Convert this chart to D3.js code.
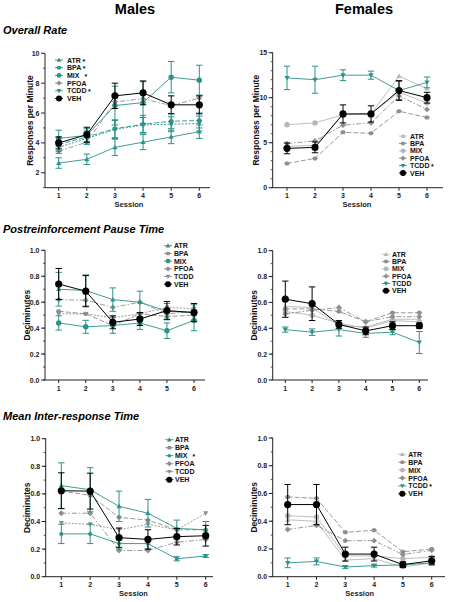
<!DOCTYPE html>
<html><head><meta charset="utf-8">
<script src="https://cdn.jsdelivr.net/npm/d3@7"></script>
<style>body{margin:0;background:#fff}svg{display:block;font-family:"Liberation Sans",Arial,sans-serif}</style>
</head><body><svg id="c" width="449" height="602"></svg>
<script>
const sessions = [1,2,3,4,5,6];
const groups = ["ATR","BPA","MIX","PFOA","TCDD","VEH"];

// Males – Overall Rate (responses per minute), order = groups
const mRate = [
  [2.65,2.9,3.7,4.05,4.4,4.75],
  [3.9,4.4,4.95,5.25,5.45,5.5],
  [4.3,4.5,6.5,6.7,8.4,8.2],
  [3.45,4.05,6.75,6.95,6.5,7.0],
  [3.7,4.3,4.9,5.2,5.25,5.3],
  [4.0,4.55,7.15,7.35,6.55,6.55]
];
const mRateErr = [
  [0.35,0.35,0.55,0.5,0.45,0.45],
  [0.45,0.4,0.6,0.6,0.5,0.5],
  [0.55,0.45,1.3,1.4,1.05,1.0],
  [0,0,0,0,0,0],
  [0.4,0.4,0.6,0.5,0.5,0.5],
  [0.4,0.5,0.85,0.8,0.6,0.6]
];
// Females – Overall Rate
const fRate = [
  [4.6,4.7,8.1,8.2,12.4,11.0],
  [2.7,3.25,6.15,6.05,8.5,7.8],
  [7.0,7.2,8.1,8.2,10.6,9.4],
  [4.9,5.2,6.95,7.2,10.2,8.7],
  [12.2,12.0,12.5,12.5,10.8,11.7],
  [4.37,4.48,8.2,8.2,10.8,10.0]
];
const fRateErr = [
  [0,0,0,0,0,0],[0,0,0,0,0,0],[0,0,0,0,0,0],[0,0,0,0,0,0],
  [1.3,1.5,0.6,0.45,1.0,0.6],
  [0.6,0.6,1.0,0.9,1.1,0.6]
];
// Males – Postreinforcement Pause Time (deciminutes)
const mPause = [
  [0.70,0.69,0.62,0.60,0.53,0.52],
  [0.53,0.51,0.42,0.51,0.49,0.50],
  [0.44,0.41,0.42,0.44,0.38,0.46],
  [0.62,0.615,0.56,0.60,0.51,0.53],
  [0.51,0.51,0.48,0.51,0.56,0.55],
  [0.74,0.685,0.445,0.47,0.535,0.52]
];
const mPauseErr = [
  [0.13,0.12,0.09,0.085,0.06,0.06],
  [0,0,0,0,0,0],
  [0.055,0.05,0.06,0.05,0.06,0.08],
  [0,0,0,0,0,0],[0,0,0,0,0,0],
  [0.12,0.12,0.05,0.05,0.07,0.07]
];
// Females – Postreinforcement Pause Time
const fPause = [
  [0.57,0.56,0.42,0.41,0.47,0.47],
  [0.55,0.55,0.53,0.45,0.52,0.52],
  [0.53,0.50,0.44,0.40,0.46,0.45],
  [0.51,0.54,0.56,0.45,0.49,0.49],
  [0.39,0.37,0.39,0.36,0.37,0.29],
  [0.625,0.59,0.43,0.38,0.42,0.42]
];
const fPauseErr = [
  [0,0,0,0,0,0],[0,0,0,0,0,0],[0,0,0,0,0,0],[0,0,0,0,0,0],
  [0.02,0.025,0.05,0.03,0.02,0.085],
  [0.14,0.13,0.03,0.03,0.03,0.02]
];
// Males – Mean Inter-response Time
const mIrt = [
  [0.66,0.63,0.51,0.46,0.35,0.34],
  [0.62,0.59,0.43,0.41,0.34,0.34],
  [0.31,0.31,0.24,0.24,0.13,0.15],
  [0.46,0.46,0.19,0.19,0.25,0.27],
  [0.39,0.38,0.34,0.38,0.34,0.46],
  [0.623,0.62,0.283,0.27,0.29,0.297]
];
const mIrtErr = [
  [0.165,0.16,0.11,0.1,0.06,0.06],
  [0,0,0,0,0,0],
  [0.07,0.07,0.04,0.04,0.015,0.01],
  [0,0,0,0,0,0],[0,0,0,0,0,0],
  [0.13,0.13,0.07,0.07,0.06,0.075]
];
// Females – Mean Inter-response Time
const fIrt = [
  [0.41,0.40,0.12,0.13,0.07,0.10],
  [0.575,0.565,0.32,0.335,0.18,0.20],
  [0.44,0.43,0.15,0.15,0.13,0.14],
  [0.34,0.37,0.26,0.26,0.16,0.19],
  [0.10,0.11,0.07,0.08,0.085,0.10],
  [0.52,0.52,0.163,0.163,0.087,0.115]
];
const fIrtErr = [
  [0,0,0,0,0,0],[0,0,0,0,0,0],[0,0,0,0,0,0],[0,0,0,0,0,0],
  [0.035,0.025,0.01,0.01,0.01,0.01],
  [0.145,0.145,0.05,0.05,0.02,0.03]
];

const rateTicks = [2,4,6,8,10];
const fRateTicks = [0,5,10,15];
const decTicks = [0,0.2,0.4,0.6,0.8,1.0];

const TEAL = "#2a938a", GRAY = "#8f8f8f", LIGHT = "#b7b7b7", BLACK = "#000";
const shapes = ["triUp","hex","circle","diamond","triDown","big"];
const dashesM = [null,"5,2",null,"5,2,1.5,2","2,1.5",null];
const dashesF = [null,"5,2",null,"5,2,1.5,2",null,null];

const svg = d3.select("#c");

function symbolPath(shape, s){
  const p = d3.path();
  if (shape==="triUp"){ p.moveTo(0,-s); p.lineTo(s*0.95,s*0.7); p.lineTo(-s*0.95,s*0.7); p.closePath(); }
  else if (shape==="triDown"){ p.moveTo(0,s); p.lineTo(s*0.95,-s*0.7); p.lineTo(-s*0.95,-s*0.7); p.closePath(); }
  else if (shape==="diamond"){ p.moveTo(0,-s*1.1); p.lineTo(s*1.1,0); p.lineTo(0,s*1.1); p.lineTo(-s*1.1,0); p.closePath(); }
  else if (shape==="hex"){ for(let i=0;i<6;i++){const a=Math.PI/3*i; const fx=s*Math.cos(a)*1.05, fy=s*Math.sin(a)*0.85; i?p.lineTo(fx,fy):p.moveTo(fx,fy);} p.closePath(); }
  else { p.arc(0,0,s,0,2*Math.PI); }
  return p.toString();
}

function panel(cfg){
  const g = svg.append("g");
  const x = d3.scaleLinear().domain([1,6]).range(cfg.xr);
  const y = d3.scaleLinear().domain(cfg.ydom).range(cfg.yr);
  const ax = cfg.axisX, ay = cfg.yr[0];
  g.append("line").attr("x1",ax).attr("x2",ax).attr("y1",cfg.yr[1]).attr("y2",ay).attr("stroke","#222").attr("stroke-width",1);
  g.append("line").attr("x1",ax).attr("x2",cfg.xEnd).attr("y1",ay).attr("y2",ay).attr("stroke","#222").attr("stroke-width",1);
  cfg.minors.forEach(v=>g.append("line").attr("x1",ax-2).attr("x2",ax).attr("y1",y(v)).attr("y2",y(v)).attr("stroke","#222").attr("stroke-width",0.8));
  cfg.majors.forEach(v=>{
    g.append("line").attr("x1",ax-4).attr("x2",ax).attr("y1",y(v)).attr("y2",y(v)).attr("stroke","#222").attr("stroke-width",1);
    g.append("text").attr("x",ax-5.5).attr("y",y(v)).attr("text-anchor","end").attr("dominant-baseline","central")
      .attr("font-size",7).attr("font-weight","bold").attr("fill","#222").text(cfg.fmt(v));
  });
  sessions.forEach(s=>{
    g.append("line").attr("x1",x(s)).attr("x2",x(s)).attr("y1",ay).attr("y2",ay+3).attr("stroke","#222").attr("stroke-width",1);
    g.append("text").attr("x",x(s)).attr("y",ay+8).attr("text-anchor","middle").attr("dominant-baseline","central")
      .attr("font-size",7).attr("font-weight","bold").attr("fill","#222").text(s);
  });
  if (cfg.session) g.append("text").attr("x",(cfg.xr[0]+cfg.xr[1])/2).attr("y",ay+17).attr("text-anchor","middle").attr("dominant-baseline","central")
      .attr("font-size",7.5).attr("font-weight","bold").attr("fill","#222").text("Session");
  g.append("text").attr("transform",`translate(${cfg.ylabelX},${(cfg.yr[0]+cfg.yr[1])/2}) rotate(-90)`)
    .attr("text-anchor","middle").attr("dominant-baseline","central").attr("font-size",8.5).attr("font-weight","bold").attr("fill","#111").text(cfg.ylabel);

  const colorOf = i => cfg.colors[i];
  const rank = c=>c===BLACK?3:(c===TEAL?2:(c===GRAY?1:0));
  const order = [3,1,4,0,2,5].sort((a,b)=>rank(colorOf(a))-rank(colorOf(b)));
  const line = d3.line().x((d,i)=>x(sessions[i])).y(d=>y(d));
  order.forEach(i=>{
    const c = colorOf(i);
    const vals = cfg.mean[i], errs = cfg.err[i];
    const sg = g.append("g");
    sg.append("path").attr("d",line(vals)).attr("fill","none").attr("stroke",c)
      .attr("stroke-width", i===5?1:0.9).attr("stroke-dasharray", cfg.dashes[i]);
    vals.forEach((v,k)=>{
      const e = errs[k];
      if (e>0){
        const cx = x(sessions[k]);
        sg.append("line").attr("x1",cx).attr("x2",cx).attr("y1",y(v-e)).attr("y2",y(v+e)).attr("stroke",c).attr("stroke-width",1);
        [v-e,v+e].forEach(w=>sg.append("line").attr("x1",cx-3.2).attr("x2",cx+3.2).attr("y1",y(w)).attr("y2",y(w)).attr("stroke",c).attr("stroke-width",1));
      }
    });
    vals.forEach((v,k)=>{
      const sz = i===5?3.6:(cfg.smallMix && i===2?2:2.7);
      sg.append("path").attr("d",symbolPath(shapes[i],sz)).attr("transform",`translate(${x(sessions[k])},${y(v)})`).attr("fill",c);
    });
  });
  const L = cfg.legend;
  groups.forEach((name,i)=>{
    const ly = L.y + i*L.dy, c = colorOf(i);
    g.append("line").attr("x1",L.x-4).attr("x2",L.x+4).attr("y1",ly).attr("y2",ly).attr("stroke",c).attr("stroke-width",0.9);
    const sz = i===5?3:(cfg.smallMix && i===2?1.8:2.4);
    g.append("path").attr("d",symbolPath(shapes[i],sz)).attr("transform",`translate(${L.x},${ly})`).attr("fill",c);
    const t = g.append("text").attr("x",L.tx).attr("y",ly).attr("dominant-baseline","central")
      .attr("font-size",7).attr("font-weight","bold").attr("fill","#111").text(name);
    if (L.star[i]){
      const w = t.node().getComputedTextLength();
      g.append("text").attr("x",L.tx+w+(name==="MIX"?5:1.5)).attr("y",ly+1).attr("dominant-baseline","central")
        .attr("font-size",7).attr("font-weight","bold").attr("fill","#111").text("*");
    }
  });
}

svg.append("text").attr("x",135).attr("y",14).attr("text-anchor","middle").attr("font-size",14.5).attr("font-weight","bold").text("Males");
svg.append("text").attr("x",364).attr("y",14).attr("text-anchor","middle").attr("font-size",14.5).attr("font-weight","bold").text("Females");
const sec = [["Overall Rate",34],["Postreinforcement Pause Time",233],["Mean Inter-response Time",420]];
sec.forEach(([t,yy])=>svg.append("text").attr("x",3).attr("y",yy).attr("font-size",11).attr("font-weight","bold").attr("font-style","italic").text(t));

const f1 = d=>d, f2 = d=>d.toFixed(1);
panel({mean:mRate, err:mRateErr, colors:[TEAL,TEAL,TEAL,GRAY,TEAL,BLACK], dashes:dashesM, xr:[58.7,199.3], yr:[187.7,53.3], ydom:[1,10], axisX:45, xEnd:210,
  majors:rateTicks, minors:[1,3,5,7,9], fmt:f1, ylabel:"Responses per Minute", ylabelX:30, session:true,
  legend:{x:59, tx:67, y:60, dy:7.7, star:[1,1,1,0,1,0]}});
panel({mean:fRate, err:fRateErr, colors:[LIGHT,GRAY,LIGHT,GRAY,TEAL,BLACK], dashes:dashesF, xr:[287,427], yr:[187.7,52.7], ydom:[0,15], axisX:272.7, xEnd:443,
  majors:fRateTicks, minors:d3.range(0,16), fmt:f1, ylabel:"Responses per Minute", ylabelX:256, session:true,
  legend:{x:403, tx:410, y:136, dy:7.4, star:[0,0,0,0,1,0]}});
panel({mean:mPause, err:mPauseErr, colors:[TEAL,GRAY,TEAL,GRAY,GRAY,BLACK], dashes:dashesM, xr:[58.7,194], yr:[380,250.3], ydom:[0,1], axisX:45, xEnd:205,
  majors:decTicks, minors:d3.range(0,1.01,0.1), fmt:f2, ylabel:"Deciminutes", ylabelX:27, session:false,
  legend:{x:168, tx:174, y:245.7, dy:7.7, star:[0,0,0,0,0,0]}});
panel({mean:fPause, err:fPauseErr, colors:[LIGHT,GRAY,LIGHT,GRAY,TEAL,BLACK], dashes:dashesF, xr:[285.3,419.3], yr:[380,250.7], ydom:[0,1], axisX:272.7, xEnd:428,
  majors:decTicks, minors:d3.range(0,1.01,0.1), fmt:f2, ylabel:"Deciminutes", ylabelX:254, session:false,
  legend:{x:386, tx:392, y:254.3, dy:7.3, star:[0,0,0,0,0,0]}});
panel({mean:mIrt, err:mIrtErr, colors:[TEAL,GRAY,TEAL,GRAY,GRAY,BLACK], dashes:dashesM, xr:[61.3,205.7], yr:[576.7,438.7], ydom:[0,1], axisX:45.7, xEnd:213,
  majors:decTicks, minors:d3.range(0,1.01,0.1), fmt:f2, ylabel:"Deciminutes", ylabelX:27, session:true, smallMix:true,
  legend:{x:169.3, tx:175, y:439.7, dy:8, star:[0,0,1,0,0,0]}});
panel({mean:fIrt, err:fIrtErr, colors:[LIGHT,GRAY,LIGHT,GRAY,TEAL,BLACK], dashes:dashesF, xr:[287.7,431.7], yr:[576.7,438], ydom:[0,1], axisX:272.7, xEnd:445,
  majors:decTicks, minors:d3.range(0,1.01,0.1), fmt:f2, ylabel:"Deciminutes", ylabelX:254, session:true,
  legend:{x:402.3, tx:408.3, y:454.3, dy:7.9, star:[0,0,0,0,1,0]}});
</script></body></html>
